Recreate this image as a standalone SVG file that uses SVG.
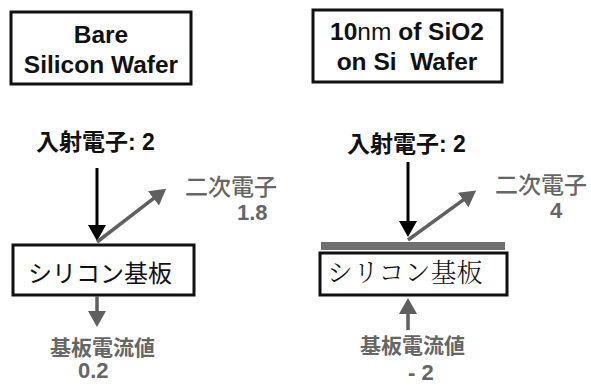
<svg xmlns="http://www.w3.org/2000/svg" width="591" height="390" viewBox="0 0 591 390">
<style>
.box{fill:#fff;stroke:#111;stroke-width:3}
.title{font-family:"Liberation Sans","Noto Sans CJK JP",sans-serif;font-weight:bold;font-size:24.5px;fill:#111;text-anchor:middle}
.lbl{font-family:"Liberation Sans","Noto Sans CJK JP",sans-serif;font-weight:bold;font-size:23px;fill:#111}
.glbl{font-family:"Liberation Sans","Noto Sans CJK JP",sans-serif;font-weight:bold;font-size:21px;fill:#666}
.num{font-family:"Liberation Sans",sans-serif;font-weight:bold;font-size:22px;fill:#666}
.glbl2{font-family:"Liberation Sans","Noto Sans CJK JP",sans-serif;font-weight:500;font-size:23px;fill:#666}
.sub{font-family:"Noto Sans CJK JP",sans-serif;font-size:24px;fill:#111}
.sub2{font-family:"Noto Serif CJK JP","Noto Sans CJK JP",serif;font-weight:300;font-size:26px;fill:#111}
.blk{stroke:#000;stroke-width:3;fill:none}
.gry{stroke:#606060;stroke-width:3.5;fill:none}
</style>
<defs>
<marker id="ah" markerUnits="userSpaceOnUse" markerWidth="17" markerHeight="19" refX="1" refY="9" orient="auto"><path d="M0,0 L16,9 L0,18 z" fill="#000"/></marker>
<marker id="ahg" markerUnits="userSpaceOnUse" markerWidth="17" markerHeight="19" refX="1" refY="9" orient="auto"><path d="M0,0 L16,9 L0,18 z" fill="#606060"/></marker>
</defs>
<g id="title-left">
<rect class="box" x="11" y="12" width="180" height="72"/>
<text class="title" x="101" y="43">Bare</text>
<text class="title" x="101" y="73">Silicon Wafer</text>
</g>
<g id="title-right">
<rect class="box" x="313" y="10" width="189" height="72"/>
<text class="title" x="407" y="40">10<tspan font-weight="normal">nm</tspan> of SiO2</text>
<text class="title" x="407" y="70" xml:space="preserve">on Si  Wafer</text>
</g>
<g id="left-incident"><text class="lbl" x="36" y="150">入射電子: 2</text></g>
<g id="left-secondary"><text class="glbl2" x="185" y="195">二次電子</text><text class="num" x="237" y="220">1.8</text></g>
<g id="left-substrate">
<rect class="box" x="13" y="245" width="181" height="50"/>
<text class="sub" x="28" y="282">シリコン基板</text>
</g>
<g id="left-current"><text class="glbl" x="50" y="355">基板電流値</text><text class="num" x="78" y="378">0.2</text></g>
<g id="right-incident"><text class="lbl" x="347" y="152">入射電子: 2</text></g>
<g id="right-secondary"><text class="glbl2" x="495" y="193">二次電子</text><text class="num" x="550" y="218">4</text></g>
<g id="right-substrate">
<rect x="321" y="242" width="184" height="8" fill="#707070"/>
<rect class="box" x="320" y="253" width="187" height="42" stroke-width="4"/>
<text class="sub2" x="327" y="282">シリコン基板</text>
</g>
<g id="right-current"><text class="glbl" x="360" y="353">基板電流値</text><text class="num" x="408" y="380">- 2</text></g>
<g id="connectors">
<line class="blk" x1="97" y1="168" x2="97" y2="226" marker-end="url(#ah)"/>
<line class="gry" x1="97" y1="242" x2="154.3" y2="197.8" marker-end="url(#ahg)"/>
<line class="gry" x1="97" y1="296" x2="97" y2="312" marker-end="url(#ahg)"/>
<line class="blk" x1="408" y1="162" x2="408" y2="222" marker-end="url(#ah)"/>
<line class="gry" x1="408" y1="240" x2="464" y2="199.4" marker-end="url(#ahg)"/>
<line class="gry" x1="408" y1="330" x2="408" y2="313" marker-end="url(#ahg)"/>
</g>
</svg>
